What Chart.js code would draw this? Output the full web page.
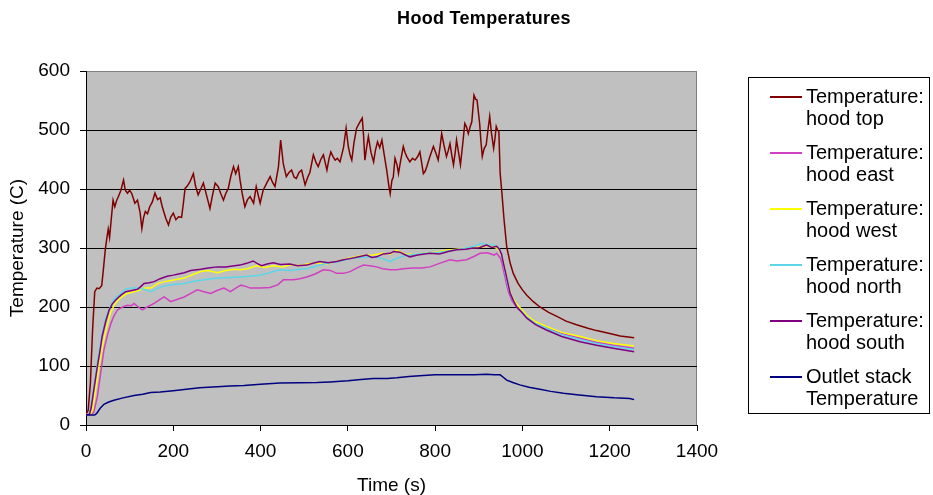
<!DOCTYPE html>
<html>
<head>
<meta charset="utf-8">
<script src="https://cdn.jsdelivr.net/npm/chart.js@4.4.1/dist/chart.umd.min.js"></script>
<style>
  html, body { margin: 0; padding: 0; background: #fff; }
  #wrap { position: relative; width: 933px; height: 495px; overflow: hidden; font-family: "Liberation Sans", Arial, sans-serif; }
  #title { position: absolute; top: 8px; left: 484px; transform: translateX(-50%); font-size: 18px; font-weight: bold; white-space: nowrap; color: #000; line-height: 21px; letter-spacing: 0.3px; }
  #legend { position: absolute; left: 748px; top: 77px; width: 182px; height: 337px; border: 1px solid #000; box-sizing: border-box; padding-top: 7px; }
  .item { position: relative; height: 56px; }
  .swatch { position: absolute; left: 21px; top: 11px; width: 32px; height: 2px; }
  .txt { position: absolute; left: 57px; top: 0; font-size: 20px; line-height: 22px; color: #000; white-space: nowrap; }
  canvas { position: absolute; left: 0; top: 0; }
</style>
</head>
<body>
<div id="wrap">
  <canvas id="c" width="933" height="495"></canvas>
  <div id="title"></div>
  <div id="legend"></div>
</div>
<script>
const chartTitle = "Hood Temperatures";
const xAxisTitle = "Time (s)";
const yAxisTitle = "Temperature (C)";
const xTicks = [0, 200, 400, 600, 800, 1000, 1200, 1400];
const yTicks = [0, 100, 200, 300, 400, 500, 600];

// [time s, temperature C]
const hoodTop = [[0,18],[5,25],[10,70],[15,160],[20,226],[25,232],[30,231],[36,236],[40,265],[44,296],[48,318],[51,332],[54,318],[58,350],[62,381],[66,370],[70,380],[74,387],[80,398],[86,415],[90,398],[95,393],[100,398],[105,392],[112,376],[118,381],[124,360],[128,333],[132,352],[136,362],[141,358],[146,370],[152,378],[158,393],[164,382],[170,385],[174,372],[178,362],[183,350],[189,339],[194,352],[200,359],[206,348],[212,353],[219,352],[223,375],[227,401],[232,405],[238,412],[246,426],[251,405],[257,390],[263,400],[269,410],[276,390],[284,367],[290,390],[296,410],[303,404],[309,392],[315,381],[320,392],[326,401],[332,422],[338,438],[343,426],[349,438],[353,415],[358,392],[364,370],[370,382],[376,387],[384,376],[390,404],[399,376],[406,398],[414,410],[422,421],[427,412],[433,404],[441,438],[446,483],[452,443],[459,421],[465,428],[471,432],[477,420],[482,418],[488,428],[494,432],[502,407],[508,420],[513,428],[517,443],[521,458],[527,445],[532,438],[538,450],[544,458],[552,432],[557,452],[561,463],[566,455],[571,449],[576,452],[582,446],[590,470],[596,503],[601,472],[605,458],[609,449],[614,478],[620,503],[628,514],[633,520],[636,490],[639,449],[643,470],[647,489],[653,462],[659,446],[663,465],[668,480],[673,470],[678,483],[684,455],[689,432],[694,405],[697,392],[701,415],[704,420],[708,452],[713,440],[716,426],[721,448],[727,472],[731,462],[735,455],[742,446],[748,452],[754,449],[760,455],[765,463],[769,445],[773,426],[777,430],[781,438],[788,455],[796,472],[802,460],[807,449],[811,470],[815,494],[820,475],[826,455],[830,465],[834,477],[838,458],[842,441],[846,462],[849,483],[853,465],[858,441],[863,475],[868,511],[872,505],[876,494],[880,505],[884,514],[889,559],[893,552],[896,551],[902,511],[905,480],[908,455],[912,468],[917,475],[921,500],[925,523],[929,495],[934,469],[937,485],[940,506],[943,500],[946,497],[949,426],[953,393],[958,347],[964,302],[972,274],[979,257],[990,240],[1000,229],[1010,220],[1025,209],[1040,200],[1060,191],[1079,184],[1100,176],[1124,170],[1150,164],[1170,160],[1200,155],[1224,151],[1256,148]];

const hoodEast = [[0,18],[12,18],[18,22],[26,48],[34,90],[41,127],[49,152],[57,172],[64,185],[72,195],[84,200],[95,203],[104,202],[110,206],[120,200],[129,195],[140,200],[156,206],[168,212],[179,217],[194,209],[210,213],[225,217],[240,223],[255,229],[270,226],[286,223],[300,228],[316,232],[331,226],[345,233],[355,237],[366,235],[376,232],[400,232],[422,233],[440,238],[452,246],[475,246],[490,248],[506,251],[525,256],[544,263],[560,262],[574,257],[590,257],[605,260],[620,266],[636,271],[650,270],[666,268],[680,265],[697,263],[712,263],[727,265],[750,266],[770,266],[788,268],[810,274],[834,280],[850,278],[872,280],[890,286],[903,291],[920,292],[935,288],[941,291],[946,286],[950,282],[954,272],[958,258],[963,240],[968,226],[975,212],[987,199],[1010,183],[1030,173],[1055,165],[1090,155],[1132,147],[1170,140],[1208,135],[1256,130]];

const hoodWest = [[0,18],[10,18],[15,25],[22,60],[30,100],[38,135],[47,165],[56,190],[66,205],[78,215],[91,222],[105,225],[120,228],[135,232],[148,232],[165,240],[180,243],[195,245],[210,247],[225,249],[245,255],[263,260],[280,262],[301,258],[320,262],[340,264],[353,263],[370,265],[390,270],[410,267],[429,270],[450,268],[470,272],[490,270],[506,273],[530,275],[550,273],[582,279],[605,283],[630,287],[658,288],[680,291],[697,290],[712,296],[730,290],[750,289],[773,291],[800,293],[825,296],[849,298],[870,300],[890,301],[910,302],[926,305],[940,300],[947,296],[952,288],[956,278],[962,256],[968,236],[975,219],[987,205],[1010,186],[1030,175],[1055,167],[1090,157],[1132,150],[1170,143],[1208,138],[1256,134]];

const hoodNorth = [[0,18],[7,18],[12,35],[20,75],[28,115],[36,150],[45,180],[55,200],[66,215],[78,222],[91,230],[105,232],[118,232],[133,230],[148,226],[165,232],[180,236],[200,238],[225,240],[250,244],[280,247],[301,249],[330,250],[354,251],[375,252],[399,254],[420,258],[444,263],[470,262],[490,264],[506,265],[530,270],[551,274],[580,277],[605,282],[630,284],[658,285],[680,282],[697,277],[704,280],[730,287],[750,289],[773,291],[800,292],[830,295],[849,297],[870,300],[890,303],[907,308],[920,305],[933,305],[943,302],[948,297],[952,288],[956,275],[962,252],[968,232],[975,216],[987,201],[1010,183],[1030,172],[1055,164],[1090,153],[1132,145],[1170,138],[1208,133],[1256,128]];

const hoodSouth = [[0,18],[8,18],[12,30],[18,60],[26,99],[32,125],[37,150],[45,175],[53,195],[60,205],[68,212],[80,220],[91,226],[105,228],[118,230],[126,235],[133,240],[145,241],[156,243],[170,248],[186,252],[200,254],[212,256],[225,258],[240,262],[263,264],[280,266],[301,268],[320,268],[340,270],[353,271],[368,274],[383,278],[392,274],[402,270],[415,273],[429,275],[445,272],[467,273],[485,270],[506,271],[520,274],[536,277],[555,275],[574,277],[590,280],[605,282],[625,285],[643,288],[655,284],[666,285],[681,290],[697,291],[705,294],[719,293],[730,289],[742,285],[760,288],[788,291],[810,290],[830,294],[849,297],[870,298],[887,300],[900,300],[910,303],[918,305],[930,301],[941,303],[947,298],[952,290],[956,276],[960,263],[966,243],[972,223],[980,210],[987,200],[1000,190],[1010,181],[1030,170],[1055,161],[1090,150],[1132,141],[1170,135],[1208,130],[1256,124]];

const outletStack = [[0,17],[20,17],[25,20],[32,28],[41,35],[52,39],[64,42],[85,46],[110,50],[130,52],[148,55],[170,56],[200,58],[225,60],[260,63],[301,65],[330,66],[362,67],[400,69],[444,71],[490,71.5],[530,72],[559,73],[600,75],[630,77],[658,79],[690,79],[712,80],[740,82],[773,84],[800,85],[826,85],[860,85],[890,85],[918,86],[935,85],[949,85],[956,81],[964,76],[978,72],[994,68],[1015,64],[1040,60.5],[1065,57],[1094,54],[1130,51],[1170,48],[1210,46],[1246,45],[1256,43]];

const seriesLabels = [
  ["Temperature:", "hood top"],
  ["Temperature:", "hood east"],
  ["Temperature:", "hood west"],
  ["Temperature:", "hood north"],
  ["Temperature:", "hood south"],
  ["Outlet stack", "Temperature"]
];
const seriesData = [hoodTop, hoodEast, hoodWest, hoodNorth, hoodSouth, outletStack];
const seriesColors = ["#800000", "#D040C0", "#FFFF00", "#5CD6E8", "#800080", "#000080"];

document.getElementById('title').textContent = chartTitle;

const legend = document.getElementById('legend');
seriesLabels.forEach((lines, i) => {
  const item = document.createElement('div');
  item.className = 'item';
  const sw = document.createElement('div');
  sw.className = 'swatch';
  sw.style.backgroundColor = seriesColors[i];
  const tx = document.createElement('div');
  tx.className = 'txt';
  lines.forEach((s, k) => {
    if (k) tx.appendChild(document.createElement('br'));
    tx.appendChild(document.createTextNode(s));
  });
  item.appendChild(sw);
  item.appendChild(tx);
  legend.appendChild(item);
});

const bgPlugin = {
  id: 'plotBg',
  beforeDraw(chart) {
    const { ctx, chartArea: { left, top, right, bottom } } = chart;
    ctx.save();
    ctx.fillStyle = '#C0C0C0';
    ctx.fillRect(left, top, right - left, bottom - top);
    ctx.strokeStyle = '#808080';
    ctx.lineWidth = 1;
    ctx.beginPath();
    ctx.moveTo(Math.round(right) - 0.5, top);
    ctx.lineTo(Math.round(right) - 0.5, bottom);
    ctx.stroke();
    ctx.restore();
  }
};

const font = { family: '"Liberation Sans", Arial, sans-serif', size: 19 };

new Chart(document.getElementById('c'), {
  type: 'line',
  data: {
    datasets: seriesData.map((d, i) => ({
      label: seriesLabels[i].join(' '),
      data: d.map(p => ({ x: p[0], y: p[1] })),
      borderColor: seriesColors[i],
      backgroundColor: seriesColors[i],
      borderWidth: 1.5,
      pointRadius: 0,
      tension: 0,
      fill: false,
      order: -i
    }))
  },
  options: {
    responsive: false,
    devicePixelRatio: 1,
    animation: false,
    layout: { padding: { top: 71, right: 236, left: 0, bottom: 0 } },
    plugins: { legend: { display: false }, title: { display: false }, tooltip: { enabled: false } },
    scales: {
      x: {
        type: 'linear', min: 0, max: 1400,
        afterFit: s => { s.height = 70; },
        afterBuildTicks: s => { s.ticks = xTicks.map(v => ({ value: v })); },
        ticks: { color: '#000', font, padding: 9, maxRotation: 0, autoSkip: false, callback: v => String(v) },
        grid: { drawOnChartArea: false, drawTicks: true, tickLength: 6, tickColor: '#000', color: '#000' },
        border: { color: '#000', width: 1 },
        title: { display: true, text: xAxisTitle, color: '#000', font: { ...font, lineHeight: 1 }, padding: { top: 0, bottom: 0 } }
      },
      y: {
        type: 'linear', min: 0, max: 600,
        afterFit: s => { s.width = 86; },
        afterBuildTicks: s => { s.ticks = yTicks.map(v => ({ value: v })); },
        ticks: { color: '#000', font, padding: 10, callback: v => String(v) },
        grid: { color: c => (c.tick && c.tick.value === 600 ? '#808080' : '#000'), tickLength: 6, tickColor: '#000', lineWidth: 1 },
        border: { color: '#000', width: 1 },
        title: { display: true, text: yAxisTitle, color: '#000', font: { ...font, lineHeight: 1 }, padding: { top: 8, bottom: 0 } }
      }
    }
  },
  plugins: [bgPlugin]
});
</script>
</body>
</html>
